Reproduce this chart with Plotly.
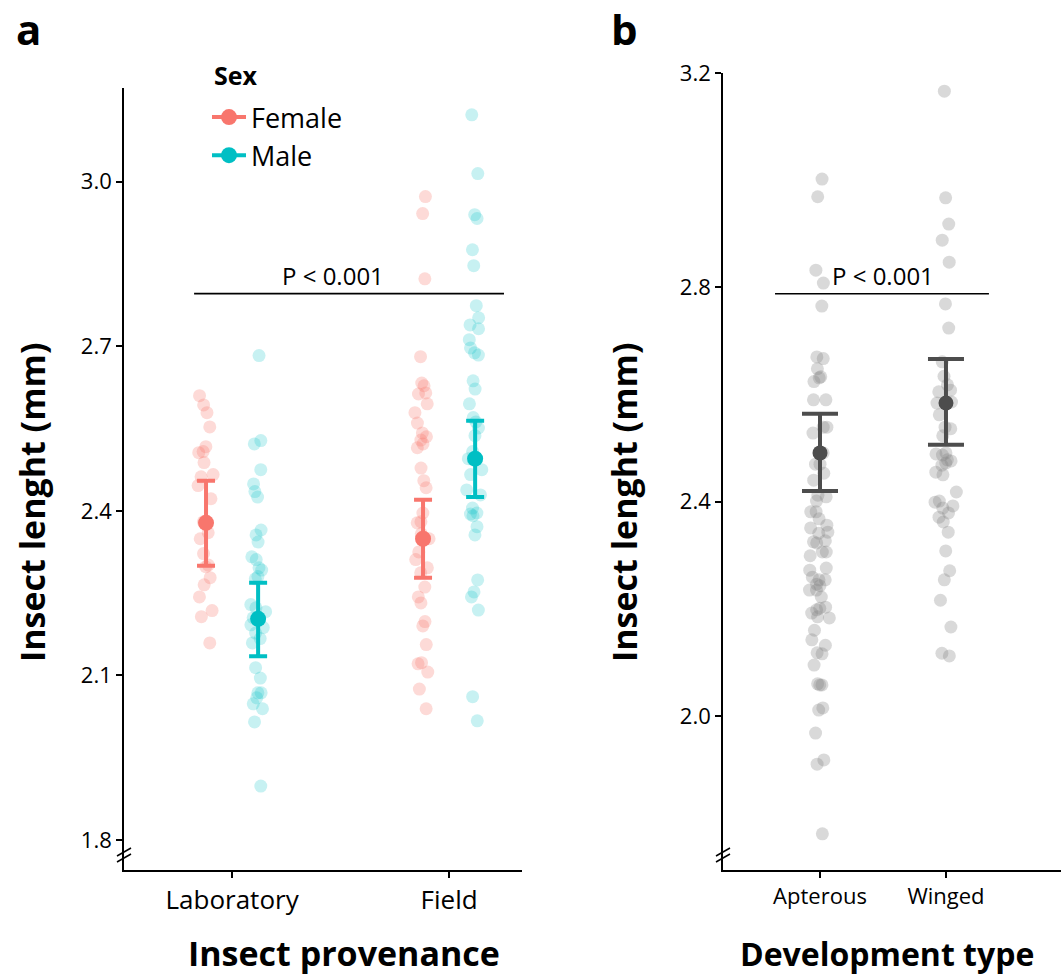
import plotly.graph_objects as go

# ---------------- data ----------------
provenance = ["Laboratory", "Field"]
sexes = ["Female", "Male"]

lab_female = [2.610, 2.593, 2.579, 2.553, 2.517, 2.508, 2.506, 2.488, 2.466, 2.462, 2.446,
              2.422, 2.380, 2.360, 2.349, 2.322, 2.301, 2.298, 2.278, 2.265, 2.243, 2.218,
              2.207, 2.159]
lab_male = [2.683, 2.528, 2.522, 2.475, 2.449, 2.435, 2.425, 2.365, 2.356, 2.343, 2.316,
            2.311, 2.296, 2.292, 2.276, 2.280, 2.223, 2.229, 2.216, 2.205, 2.192, 2.187,
            2.167, 2.177, 2.159, 2.114, 2.095, 2.068, 2.068, 2.059, 2.048, 2.039, 2.015,
            1.898]
field_female = [2.973, 2.942, 2.823, 2.681, 2.633, 2.628, 2.615, 2.613, 2.595, 2.579, 2.560,
                2.542, 2.529, 2.522, 2.535, 2.515, 2.478, 2.455, 2.442, 2.396, 2.378, 2.380,
                2.358, 2.349, 2.325, 2.311, 2.296, 2.287, 2.261, 2.243, 2.232, 2.198, 2.190,
                2.156, 2.123, 2.121, 2.106, 2.075, 2.039]
field_male = [3.122, 3.015, 2.940, 2.933, 2.876, 2.847, 2.774, 2.752, 2.739, 2.732, 2.712,
              2.697, 2.688, 2.684, 2.637, 2.622, 2.595, 2.570, 2.551, 2.562, 2.537, 2.508,
              2.495, 2.493, 2.475, 2.466, 2.438, 2.429, 2.405, 2.396, 2.394, 2.391, 2.371,
              2.356, 2.274, 2.252, 2.243, 2.219, 2.061, 2.017]

female_mean = [2.378, 2.349]
female_low = [2.300, 2.278]
female_high = [2.455, 2.420]
male_mean = [2.203, 2.495]
male_low = [2.135, 2.425]
male_high = [2.269, 2.564]

dev_types = ["Apterous", "Winged"]
apterous = [3.002, 2.969, 2.832, 2.808, 2.765, 2.670, 2.667, 2.648, 2.633, 2.631, 2.624,
            2.590, 2.590, 2.539, 2.528, 2.539, 2.491, 2.470, 2.470, 2.453, 2.440, 2.409,
            2.412, 2.401, 2.381, 2.381, 2.368, 2.351, 2.356, 2.341, 2.343, 2.325, 2.323,
            2.327, 2.306, 2.306, 2.299, 2.276, 2.272, 2.259, 2.254, 2.254, 2.246, 2.243,
            2.235, 2.235, 2.222, 2.203, 2.192, 2.198, 2.201, 2.185, 2.183, 2.160, 2.142,
            2.132, 2.118, 2.116, 2.095, 2.058, 2.060, 2.058, 2.015, 2.011, 1.968, 1.918,
            1.910, 1.780]
winged = [3.166, 2.967, 2.918, 2.888, 2.847, 2.769, 2.724, 2.661, 2.634, 2.618, 2.608,
          2.605, 2.586, 2.584, 2.562, 2.539, 2.536, 2.523, 2.491, 2.487, 2.489, 2.478,
          2.476, 2.472, 2.468, 2.455, 2.450, 2.418, 2.401, 2.399, 2.392, 2.388, 2.379,
          2.371, 2.362, 2.343, 2.308, 2.271, 2.254, 2.216, 2.166, 2.112, 2.117]

dev_mean = [2.491, 2.584]
dev_low = [2.420, 2.506]
dev_high = [2.564, 2.666]

p_label = "P < 0.001"

# ---------------- styling ----------------
W, H = 1061, 975
FONT = "Open Sans"
RED = "#F8766D"
CYAN = "#00BFC4"
RED_A = "rgba(248,118,109,0.27)"
CYAN_A = "rgba(0,191,196,0.22)"
GREY_A = "rgba(128,128,128,0.30)"
DARK = "#4D4D4D"
DODGE = 0.12


def px(x):
    return x / W


def py(y):
    return 1 - y / H


fig = go.Figure()

# jittered raw points (library jitter via invisible box traces)
groups_a = [
    (lab_female, 1 - DODGE, RED_A),
    (lab_male, 1 + DODGE, CYAN_A),
    (field_female, 2 - DODGE, RED_A),
    (field_male, 2 + DODGE, CYAN_A),
]
for vals, pos, col in groups_a:
    fig.add_trace(go.Box(
        x=[pos] * len(vals), y=vals, xaxis="x", yaxis="y",
        boxpoints="all", jitter=1, pointpos=0, width=0.08,
        line=dict(width=0, color="rgba(0,0,0,0)"), fillcolor="rgba(0,0,0,0)",
        marker=dict(color=col, size=13, line=dict(width=0)),
        showlegend=False, hoverinfo="y"))

groups_b = [(apterous, 1), (winged, 2)]
for vals, pos in groups_b:
    fig.add_trace(go.Box(
        x=[pos] * len(vals), y=vals, xaxis="x2", yaxis="y2",
        boxpoints="all", jitter=1, pointpos=0, width=0.2,
        line=dict(width=0, color="rgba(0,0,0,0)"), fillcolor="rgba(0,0,0,0)",
        marker=dict(color=GREY_A, size=13, line=dict(width=0)),
        showlegend=False, hoverinfo="y"))

# means with CI (panel a)
for name, mean, low, high, col, off in [
        ("Female", female_mean, female_low, female_high, RED, -DODGE),
        ("Male", male_mean, male_low, male_high, CYAN, DODGE)]:
    xs = [1 + off, None, 2 + off]
    ys = [mean[0], None, mean[1]]
    up = [high[0] - mean[0], 0, high[1] - mean[1]]
    dn = [mean[0] - low[0], 0, mean[1] - low[1]]
    fig.add_trace(go.Scatter(
        x=xs, y=ys, xaxis="x", yaxis="y", mode="lines+markers", name=name,
        connectgaps=False,
        line=dict(color=col, width=4),
        marker=dict(color=col, size=16),
        error_y=dict(type="data", symmetric=False, array=up, arrayminus=dn,
                     color=col, thickness=4, width=9),
        showlegend=True))

# means with CI (panel b)
fig.add_trace(go.Scatter(
    x=[1, 2], y=dev_mean, xaxis="x2", yaxis="y2", mode="markers",
    marker=dict(color=DARK, size=15),
    error_y=dict(type="data", symmetric=False,
                 array=[h - m for h, m in zip(dev_high, dev_mean)],
                 arrayminus=[m - l for m, l in zip(dev_mean, dev_low)],
                 color=DARK, thickness=4, width=18),
    showlegend=False))

# significance lines
fig.add_shape(type="line", xref="x", yref="y", x0=0.825, x1=2.253, y0=2.796, y1=2.796,
              line=dict(color="black", width=1.6))
fig.add_shape(type="line", xref="x2", yref="y2", x0=0.643, x1=2.341, y0=2.788, y1=2.788,
              line=dict(color="black", width=1.6))


def ann(text, x, y, size, angle=0):
    return dict(text=text, xref="paper", yref="paper", x=px(x), y=py(y),
                xanchor="center", yanchor="middle", textangle=angle,
                showarrow=False, font=dict(family=FONT, size=size, color="black"))


annotations = [
    ann(p_label, 333, 276, 24),
    ann(p_label, 883, 276, 24),
    ann("<b>a</b>", 28, 28, 42),
    ann("<b>b</b>", 624, 28, 42),
    ann("<b>Sex</b>", 236, 75, 25),
    ann("<b>Insect lenght (mm)</b>", 32, 503, 34, -90),
    ann("<b>Insect lenght (mm)</b>", 624, 503, 34, -90),
    ann("<b>Insect provenance</b>", 344, 953, 34),
    ann("<b>Development type</b>", 887, 953, 32),
]

# axis break marks
for x0, y0 in [(124, 852), (124, 858), (723, 852), (723, 858)]:
    fig.add_shape(type="line", xref="paper", yref="paper",
                  x0=px(x0 - 7), y0=py(y0 + 4), x1=px(x0 + 7), y1=py(y0 - 4),
                  line=dict(color="black", width=1.6))

axis_common = dict(showline=True, linecolor="black", linewidth=1.6, ticks="outside",
                   ticklen=6, tickwidth=1.6, tickcolor="black", showgrid=False,
                   zeroline=False, color="black", automargin=False)

fig.update_layout(
    width=W, height=H,
    margin=dict(l=0, r=0, t=0, b=0, autoexpand=False),
    plot_bgcolor="white", paper_bgcolor="white",
    font=dict(family=FONT, color="black"),
    boxmode="overlay",
    xaxis=dict(domain=[px(124), px(522)], range=[0.502, 2.336], anchor="y",
               tickvals=[1, 2], ticktext=provenance,
               tickfont=dict(family=FONT, size=26), **axis_common),
    yaxis=dict(domain=[py(870), py(88)], range=[1.745, 3.171], anchor="x",
               tickvals=[1.8, 2.1, 2.4, 2.7, 3.0], ticktext=["1.8", "2.1", "2.4", "2.7", "3.0"],
               tickfont=dict(family=FONT, size=22), **axis_common),
    xaxis2=dict(domain=[px(723), 1.0], range=[0.23, 2.913], anchor="y2",
                tickvals=[1, 2], ticktext=dev_types,
                tickfont=dict(family=FONT, size=22), **axis_common),
    yaxis2=dict(domain=[py(870), py(73)], range=[1.7125, 3.2], anchor="x2",
                tickvals=[2.0, 2.4, 2.8, 3.2], ticktext=["2.0", "2.4", "2.8", "3.2"],
                tickfont=dict(family=FONT, size=22), **axis_common),
    legend=dict(x=px(207), y=py(93), xanchor="left", yanchor="top",
                font=dict(family=FONT, size=27), bgcolor="rgba(0,0,0,0)",
                tracegroupgap=0, itemwidth=34),
    annotations=annotations,
)

fig.write_html("out.html", config={"displayModeBar": False},
               post_script="document.body.style.margin='0';")
